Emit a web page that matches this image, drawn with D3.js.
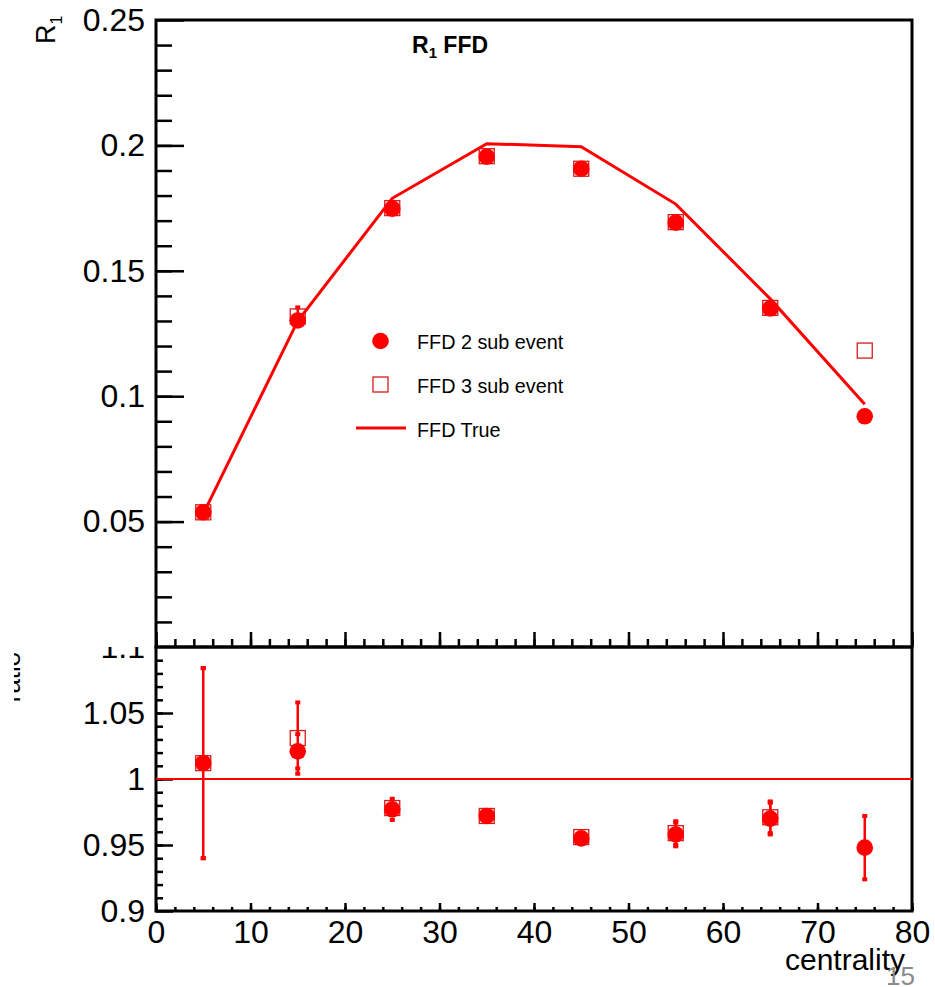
<!DOCTYPE html>
<meta charset="utf-8">
<style>
body { margin: 0; background: #fff; }
svg { font-family: "Liberation Sans", Arial, Helvetica, sans-serif; }
.axis path { display: none; }
.axis line { stroke: #000; stroke-width: 2.5; }
.axis text { font-size: 32px; fill: #000; font-family: "Liberation Sans", Arial, sans-serif; }
</style>
<svg width="935" height="987"></svg>
<script src="https://d3js.org/d3.v7.min.js"></script>
<script>

// centrality bins (bin centres)
var centrality = [5, 15, 25, 35, 45, 55, 65, 75];

// upper pad: R1
var r1Sub2    = [0.0537, 0.1302, 0.1748, 0.1955, 0.1907, 0.1692, 0.1350, 0.0920];
var r1Sub2Err = [0.0020, 0.0012, 0.0010, 0.0008, 0.0008, 0.0010, 0.0012, 0.0014];
var r1Sub3    = [0.0537, 0.1318, 0.1750, 0.1957, 0.1907, 0.1694, 0.1352, 0.1182];
var r1Sub3Err = [0.0020, 0.0036, 0.0010, 0.0008, 0.0008, 0.0010, 0.0012, 0.0016];
var r1True    = [0.0531, 0.1300, 0.1789, 0.2007, 0.1995, 0.1766, 0.1388, 0.0968];

// lower pad: ratio to true
var ratioSub2    = [1.012, 1.021, 0.977, 0.972, 0.955, 0.958, 0.970, 0.948];
var ratioSub2Err = [0.072, 0.013, 0.008, 0.004, 0.005, 0.009, 0.012, 0.024];
var ratioSub3    = [1.012, 1.031, 0.978, 0.972, 0.956, 0.959, 0.971, null];
var ratioSub3Err = [0.072, 0.027, 0.005, 0.004, 0.005, 0.009, 0.012, null];

var xTicks = [0, 10, 20, 30, 40, 50, 60, 70, 80];
var topYTicks = [0.05, 0.1, 0.15, 0.2, 0.25];
var botYTicks = [0.9, 0.95, 1, 1.05];
var legendLabels = ["FFD 2 sub event", "FFD 3 sub event", "FFD True"];

var red = "#ff0000";
var svg = d3.select("svg");

var x = d3.scaleLinear().domain([0, 80]).range([156, 912]);
var yTop = d3.scaleLinear().domain([0, 0.25]).range([647, 20]);
var yBot = d3.scaleLinear().domain([0.9, 1.1]).range([911, 647]);

function fmt(d) { return String(+d.toFixed(3)); }

// ---- upper pad axes ----
svg.append("g").attr("class", "axis")
    .attr("transform", "translate(156,0)")
    .call(d3.axisLeft(yTop).tickValues(d3.range(1, 25).map(function(i) { return i / 100; }))
        .tickSize(-16).tickFormat(""));
svg.append("g").attr("class", "axis")
    .attr("transform", "translate(156,0)")
    .call(d3.axisLeft(yTop).tickValues(topYTicks).tickSize(-28).tickPadding(11).tickFormat(fmt));
svg.append("g").attr("class", "axis")
    .attr("transform", "translate(0,646)")
    .call(d3.axisBottom(x).tickValues(d3.range(0, 81, 2)).tickSize(-7).tickFormat(""));
svg.append("g").attr("class", "axis")
    .attr("transform", "translate(0,646)")
    .call(d3.axisBottom(x).tickValues(xTicks).tickSize(-14).tickFormat(""));

// ---- lower pad axes ----
svg.append("g").attr("class", "axis")
    .attr("transform", "translate(156,0)")
    .call(d3.axisLeft(yBot).tickValues(d3.range(91, 110).map(function(i) { return i / 100; }))
        .tickSize(-7).tickFormat(""));
svg.append("g").attr("class", "axis")
    .attr("transform", "translate(156,0)")
    .call(d3.axisLeft(yBot).tickValues(botYTicks).tickSize(-17).tickPadding(11).tickFormat(fmt));
svg.append("g").attr("class", "axis")
    .attr("transform", "translate(0,911)")
    .call(d3.axisBottom(x).tickValues(d3.range(0, 81, 2)).tickSize(-4).tickFormat(""));
svg.append("g").attr("class", "axis")
    .attr("transform", "translate(0,911)")
    .call(d3.axisBottom(x).tickValues(xTicks).tickSize(-8).tickPadding(9).tickFormat(fmt));

// clipped top label of the ratio pad
svg.append("clipPath").attr("id", "clipTopLabel")
  .append("rect").attr("x", 90).attr("y", 647).attr("width", 60).attr("height", 14);
svg.append("g").attr("clip-path", "url(#clipTopLabel)")
  .append("g").attr("class", "axis")
    .attr("transform", "translate(156,0)")
    .call(d3.axisLeft(yBot).tickValues([1.1]).tickSize(0).tickPadding(11).tickFormat(fmt));

// frames
svg.append("rect").attr("x", 156).attr("y", 20).attr("width", 756).attr("height", 627)
    .attr("fill", "none").attr("stroke", "#000").attr("stroke-width", 3);
svg.append("rect").attr("x", 156).attr("y", 647).attr("width", 756).attr("height", 264)
    .attr("fill", "none").attr("stroke", "#000").attr("stroke-width", 3);

// ---- upper pad data ----
var line = d3.line().x(function(d, i) { return x(centrality[i]); }).y(function(d) { return yTop(d); });
svg.append("path").datum(r1True).attr("d", line)
    .attr("fill", "none").attr("stroke", red).attr("stroke-width", 3);

// error bars are only drawn where they stick out of the marker
function errBars(g, vals, errs, yScale) {
  var pts = centrality.map(function(c, i) { return {c: c, v: vals[i], e: errs[i]}; })
      .filter(function(p) { return p.v != null && Math.abs(yScale(p.v + p.e) - yScale(p.v)) > 8; });
  g.selectAll("line.err").data(pts).enter().append("line").attr("class", "err")
      .attr("x1", function(p) { return x(p.c); }).attr("x2", function(p) { return x(p.c); })
      .attr("y1", function(p) { return yScale(p.v - p.e); })
      .attr("y2", function(p) { return yScale(p.v + p.e); })
      .attr("stroke", red).attr("stroke-width", 2.5);
  [-1, 1].forEach(function(s) {
    g.selectAll("rect.cap" + (s > 0 ? "u" : "d")).data(pts).enter().append("rect")
        .attr("x", function(p) { return x(p.c) - 2.5; })
        .attr("y", function(p) { return yScale(p.v + s * p.e) - 2; })
        .attr("width", 5).attr("height", 4).attr("fill", red);
  });
}

function squares(g, vals, yScale) {
  var pts = centrality.map(function(c, i) { return {c: c, v: vals[i]}; })
      .filter(function(p) { return p.v != null; });
  g.selectAll("rect.sq").data(pts).enter().append("rect").attr("class", "sq")
      .attr("x", function(p) { return x(p.c) - 7.5; })
      .attr("y", function(p) { return yScale(p.v) - 7.5; })
      .attr("width", 15).attr("height", 15)
      .attr("fill", "none").attr("stroke", "#d81b1b").attr("stroke-width", 1.3);
}

function circles(g, vals, yScale) {
  g.selectAll("circle").data(vals).enter().append("circle")
      .attr("cx", function(d, i) { return x(centrality[i]); })
      .attr("cy", function(d) { return yScale(d); })
      .attr("r", 8.3).attr("fill", red);
}

var gTop = svg.append("g");
errBars(gTop, r1Sub3, r1Sub3Err, yTop);
squares(gTop, r1Sub3, yTop);
errBars(gTop, r1Sub2, r1Sub2Err, yTop);
circles(gTop, r1Sub2, yTop);

// ---- lower pad data ----
svg.append("line")
    .attr("x1", x(0)).attr("x2", x(80)).attr("y1", yBot(1)).attr("y2", yBot(1))
    .attr("stroke", red).attr("stroke-width", 2);
var gBot = svg.append("g");
errBars(gBot, ratioSub3, ratioSub3Err, yBot);
squares(gBot, ratioSub3, yBot);
errBars(gBot, ratioSub2, ratioSub2Err, yBot);
circles(gBot, ratioSub2, yBot);

// ---- legend ----
var leg = svg.append("g");
leg.append("circle").attr("cx", 380.5).attr("cy", 341).attr("r", 8.3).attr("fill", red);
leg.append("rect").attr("x", 373).attr("y", 377).attr("width", 15).attr("height", 15)
    .attr("fill", "none").attr("stroke", "#d81b1b").attr("stroke-width", 1.3);
leg.append("line").attr("x1", 356).attr("x2", 406).attr("y1", 428).attr("y2", 428)
    .attr("stroke", red).attr("stroke-width", 3);
leg.selectAll("text").data(legendLabels).enter().append("text")
    .attr("x", 417).attr("y", function(d, i) { return 349 + i * 44; })
    .attr("font-size", 19.8).attr("fill", "#000")
    .text(function(d) { return d; });

// ---- titles ----
var title = svg.append("text").attr("x", 412).attr("y", 53)
    .attr("font-size", 23).attr("font-weight", "bold");
title.append("tspan").text("R");
title.append("tspan").attr("font-size", 15).attr("dy", 5).text("1");
title.append("tspan").attr("dy", -5).text(" FFD");

var yTitle = svg.append("text").attr("transform", "translate(55,44) rotate(-90)")
    .attr("font-size", 27);
yTitle.append("tspan").text("R");
yTitle.append("tspan").attr("font-size", 16).attr("dy", 7).text("1");

svg.append("clipPath").attr("id", "clipRatio")
  .append("rect").attr("x", 14).attr("y", 640).attr("width", 20).attr("height", 80);
svg.append("g").attr("clip-path", "url(#clipRatio)")
  .append("text")
    .attr("transform", "translate(20,677) rotate(-90)")
    .attr("text-anchor", "middle").attr("font-size", 26).text("ratio");

svg.append("text").attr("x", 905).attr("y", 970).attr("text-anchor", "end")
    .attr("font-size", 30).text("centrality");

svg.append("text").attr("x", 886).attr("y", 985)
    .attr("font-size", 26).attr("fill", "#8a8a8a").text("15");

</script>
